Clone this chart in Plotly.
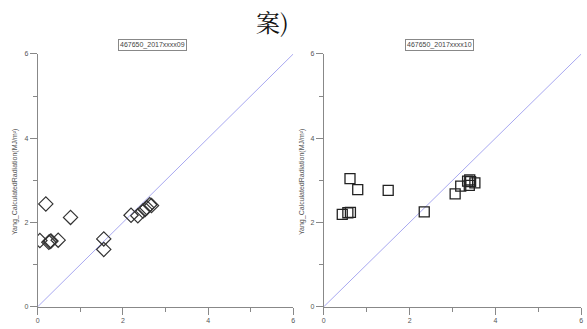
import plotly.graph_objects as go

# Station 467650, day 09: observed vs. Yang-model calculated radiation
obs_09 = [0.05, 0.19, 0.26, 0.29, 0.31, 0.48, 0.77, 1.55, 1.55, 2.19, 2.35, 2.47, 2.52, 2.56, 2.63, 2.67]
calc_09 = [1.57, 2.44, 1.53, 1.55, 1.56, 1.58, 2.12, 1.61, 1.36, 2.17, 2.16, 2.27, 2.31, 2.35, 2.42, 2.40]

# Station 467650, day 10
obs_10 = [0.43, 0.56, 0.62, 0.61, 0.79, 1.50, 2.34, 3.06, 3.19, 3.35, 3.39, 3.42, 3.40, 3.52]
calc_10 = [2.19, 2.23, 2.24, 3.04, 2.78, 2.76, 2.25, 2.68, 2.86, 2.98, 2.88, 2.97, 3.01, 2.94]

panel_titles = ["467650_2017xxxx09", "467650_2017xxxx10"]
y_title = "Yang_CalculatedRadiation(MJ/m²)"
axis_range = [0, 6]

fig = go.Figure()

# 1:1 reference lines
for xa, ya in [("x", "y"), ("x2", "y2")]:
    fig.add_trace(go.Scatter(x=axis_range, y=axis_range, mode="lines",
                             line=dict(color="#a8a8f0", width=1),
                             xaxis=xa, yaxis=ya, showlegend=False, hoverinfo="skip"))

fig.add_trace(go.Scatter(x=obs_09, y=calc_09, mode="markers",
                         marker=dict(symbol="diamond-open", size=11, color="#333333",
                                     line=dict(color="#333333", width=1.2)),
                         xaxis="x", yaxis="y", showlegend=False))
fig.add_trace(go.Scatter(x=obs_10, y=calc_10, mode="markers",
                         marker=dict(symbol="square-open", size=10, color="#222222",
                                     line=dict(color="#222222", width=1.3)),
                         xaxis="x2", yaxis="y2", showlegend=False))

tick_font = dict(family="Liberation Sans, Arial", size=7, color="#555555")
axis_common = dict(range=axis_range, dtick=2, ticks="outside", ticklen=7, tickwidth=1,
                   tickcolor="#888888", showline=True, linecolor="#888888", linewidth=1,
                   showgrid=False, zeroline=False, tickfont=tick_font,
                   minor=dict(dtick=1, ticks="outside", ticklen=4, tickcolor="#888888"))

y_dom = [0.0599, 0.845]
fig.update_layout(
    width=587, height=329,
    margin=dict(l=0, r=0, t=0, b=0),
    paper_bgcolor="white", plot_bgcolor="white",
    xaxis=dict(domain=[0.0613, 0.4997], anchor="y", **axis_common),
    yaxis=dict(domain=y_dom, anchor="x", **axis_common),
    xaxis2=dict(domain=[0.552, 0.9937], anchor="y2", **axis_common),
    yaxis2=dict(domain=y_dom, anchor="x2", **axis_common),
)

# Panel titles in boxes
for xc, text in zip([152 / 587, 441 / 587], panel_titles):
    fig.add_annotation(x=xc, y=(329 - 42) / 329, xref="paper", yref="paper",
                       xanchor="center", yanchor="middle",
                       text=text, showarrow=False,
                       font=dict(family="Liberation Sans, Arial", size=7, color="#444444"),
                       bordercolor="#888888", borderwidth=1, borderpad=1,
                       bgcolor="white")

# Rotated y-axis titles
for xp in [13 / 587, 302 / 587]:
    fig.add_annotation(x=xp, y=(329 - 182) / 329, xref="paper", yref="paper",
                       xanchor="center", yanchor="middle",
                       text=y_title, textangle=-90, showarrow=False,
                       font=dict(family="Liberation Sans, Arial", size=7, color="#555555"))

# Main heading (clipped at the top)
fig.add_annotation(x=272 / 587, y=(329 - 18) / 329, xref="paper", yref="paper",
                   xanchor="center", yanchor="middle",
                   text="案)", showarrow=False,
                   font=dict(family="Noto Serif CJK SC, Noto Sans CJK SC", size=24, color="#111111"))

fig.write_html("out.html")
